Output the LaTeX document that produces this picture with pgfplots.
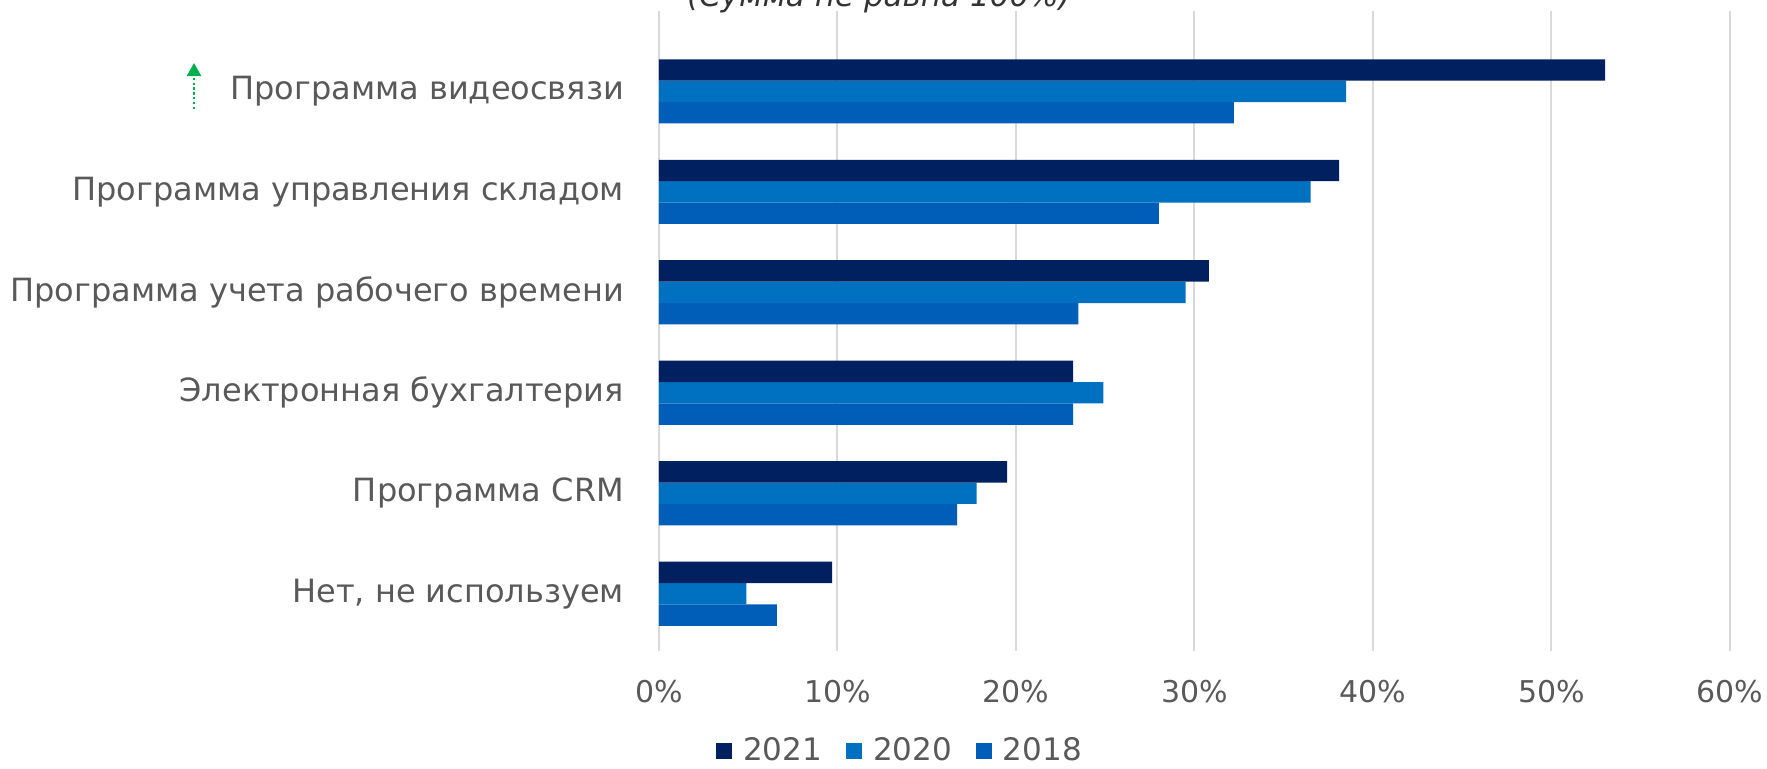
\documentclass[border=0pt]{standalone}
\usepackage{fontspec}
\setmainfont{DejaVu Sans}
\usepackage{pgfplots}
\pgfplotsset{compat=1.18}
\usetikzlibrary{arrows.meta}
\definecolor{cA}{HTML}{002060}
\definecolor{cB}{HTML}{0070C0}
\definecolor{cC}{HTML}{005EB8}
\definecolor{txt}{HTML}{595959}
\definecolor{gridc}{HTML}{D9D9D9}
\definecolor{grn}{HTML}{00B050}
\begin{document}
\begin{tikzpicture}
\useasboundingbox (0,0) rectangle (883.5pt,384pt);
\begin{axis}[
  at={(329.5pt,58.5pt)}, anchor=south west,
  scale only axis, width=535.5pt, height=320pt,
  xbar=0pt, bar width=10.7pt,
  xmin=0, xmax=60, ymin=-0.57, ymax=5.8,
  ytick={0,1,2,3,4,5},
  yticklabels={{Нет, не используем}, Программа CRM, Электронная бухгалтерия, Программа учета рабочего времени, Программа управления складом, Программа видеосвязи},
  xtick={0,10,20,30,40,50,60},
  xticklabels={0\%,10\%,20\%,30\%,40\%,50\%,60\%},
  xmajorgrids, grid style={color=gridc, line width=1pt},
  axis line style={draw=none}, major tick length=0pt,
  tick label style={text=txt},
  yticklabel style={font=\fontsize{16}{18}\selectfont, xshift=-14pt},
  xticklabel style={font=\fontsize{15}{18}\selectfont, yshift=-11pt},
  reverse legend,
  legend style={at={(0.226,-0.156)}, anchor=center, draw=none, legend columns=3,
    font=\fontsize{15.5}{18}\selectfont, text=txt,
    /tikz/every odd column/.append style={column sep=3.5pt},
    /tikz/every even column/.append style={column sep=10pt}},
  legend image code/.code={\fill[#1] (0pt,-4pt) rectangle (8pt,4pt);},
]
\addplot[fill=cC, draw=none] coordinates {(6.6,0) (16.7,1) (23.2,2) (23.5,3) (28.0,4) (32.2,5)};
\addplot[fill=cB, draw=none] coordinates {(4.9,0) (17.8,1) (24.9,2) (29.5,3) (36.5,4) (38.5,5)};
\addplot[fill=cA, draw=none] coordinates {(9.7,0) (19.5,1) (23.2,2) (30.8,3) (38.1,4) (53.0,5)};
\legend{2018,2020,2021}
\end{axis}
\node[anchor=base, font=\itshape\fontsize{15.5}{18}\selectfont, text=black!80] at (439.5pt,381pt) {(Сумма не равна 100\%)};
\draw[grn, line width=1.2pt, dash pattern=on 1.2pt off 1.2pt, -{Triangle[width=7pt,length=6.5pt]}] (97pt,329.5pt) -- (97pt,352.5pt);
\end{tikzpicture}
\end{document}
